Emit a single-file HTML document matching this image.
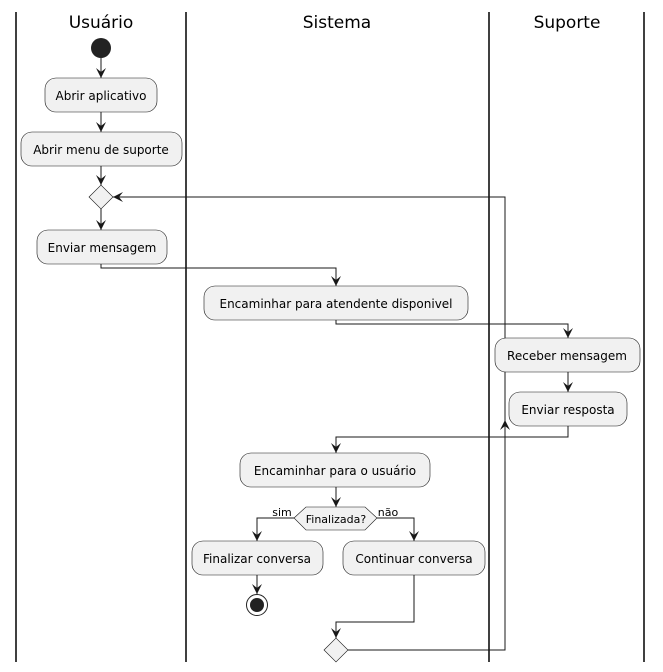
<!DOCTYPE html>
<html><head><style>body{margin:0;background:#fff}svg{display:block}text{font-family:"DejaVu Sans","Liberation Sans",sans-serif}</style></head>
<body>
<svg width="663" height="672" viewBox="0 0 663 672" xmlns="http://www.w3.org/2000/svg">
<defs>
<marker id="a" viewBox="0 0 10 10" refX="10" refY="5" markerWidth="10" markerHeight="10" markerUnits="userSpaceOnUse" orient="auto"><path d="M0,0 L10,5 L0,10 L4,5 Z" fill="#181818"/></marker>
</defs>
<g stroke="#000" stroke-width="1.5">
<line x1="16" y1="12" x2="16" y2="662"/>
<line x1="186" y1="12" x2="186" y2="662"/>
<line x1="489" y1="12" x2="489" y2="662"/>
<line x1="644" y1="12" x2="644" y2="662"/>
</g>
<g font-size="17" text-anchor="middle" fill="#000">
<text x="101" y="28">Usuário</text>
<text x="337" y="28">Sistema</text>
<text x="567" y="28">Suporte</text>
</g>
<g fill="none" stroke="#181818" stroke-width="1">
<path d="M101,58 V78" marker-end="url(#a)"/>
<path d="M101,112 V132" marker-end="url(#a)"/>
<path d="M101,166 V185" marker-end="url(#a)"/>
<path d="M101,209 V230" marker-end="url(#a)"/>
<path d="M101,264 V268 H336 V286" marker-end="url(#a)"/>
<path d="M336,320 V324 H568 V338" marker-end="url(#a)"/>
<path d="M568,372 V392" marker-end="url(#a)"/>
<path d="M568,426 V437 H336 V453" marker-end="url(#a)"/>
<path d="M336,487 V507" marker-end="url(#a)"/>
<path d="M294,518 H257 V541" marker-end="url(#a)"/>
<path d="M377,518 H414 V541" marker-end="url(#a)"/>
<path d="M257,575 V594" marker-end="url(#a)"/>
<path d="M414,575 V622 H336 V638" marker-end="url(#a)"/>
<path d="M348,650 H505 V420" marker-end="url(#a)"/>
<path d="M505,420 V197 H113" marker-end="url(#a)"/>
</g>
<circle cx="101" cy="48" r="10" fill="#222"/>
<circle cx="257" cy="605" r="10.5" fill="none" stroke="#222" stroke-width="1"/>
<circle cx="257" cy="605" r="7" fill="#222"/>
<g fill="#f1f1f1" stroke="#181818" stroke-width="0.6">
<rect x="45" y="78" width="112" height="34" rx="11"/>
<rect x="21" y="132" width="161" height="34" rx="11"/>
<rect x="37" y="230" width="130" height="34" rx="11"/>
<rect x="204" y="286" width="264" height="34" rx="11"/>
<rect x="495" y="338" width="145" height="34" rx="11"/>
<rect x="509" y="392" width="118" height="34" rx="11"/>
<rect x="240" y="453" width="190" height="34" rx="11"/>
<rect x="192" y="541" width="131" height="34" rx="11"/>
<rect x="343" y="541" width="142" height="34" rx="11"/>
<path d="M89,197 L101,185 L113,197 L101,209 Z"/>
<path d="M324,650 L336,638 L348,650 L336,662 Z"/>
<path d="M294,518 L306,507 L365,507 L377,518 L365,530 L306,530 Z"/>
</g>
<g font-size="12" text-anchor="middle" fill="#000">
<text x="101" y="100">Abrir aplicativo</text>
<text x="101" y="154">Abrir menu de suporte</text>
<text x="102" y="252">Enviar mensagem</text>
<text x="336" y="308">Encaminhar para atendente disponivel</text>
<text x="567" y="360">Receber mensagem</text>
<text x="568" y="414">Enviar resposta</text>
<text x="335" y="475">Encaminhar para o usuário</text>
<text x="257" y="563">Finalizar conversa</text>
<text x="414" y="563">Continuar conversa</text>
<text x="336" y="523" font-size="11">Finalizada?</text>
<text x="282" y="516" font-size="11">sim</text>
<text x="388" y="516" font-size="11">não</text>
</g>
</svg>
</body></html>
